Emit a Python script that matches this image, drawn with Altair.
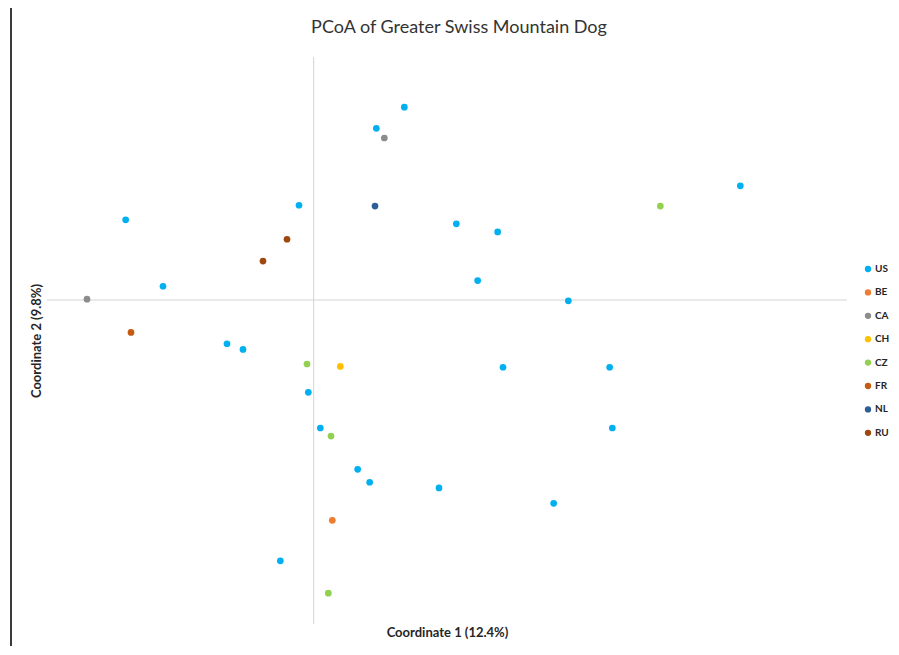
import altair as alt
import pandas as pd

# Data (Coordinate 1, Coordinate 2)
us_x = [0.068, 0.047, 0.320, -0.141, -0.011, 0.107, 0.138, -0.113, 0.123, 0.191,
        -0.065, -0.053, 0.142, 0.222, -0.004, 0.005, 0.224, 0.033, 0.042, 0.094,
        0.180, -0.025]
us_y = [0.238, 0.212, 0.141, 0.099, 0.117, 0.094, 0.084, 0.017, 0.024, -0.001,
        -0.054, -0.061, -0.083, -0.083, -0.114, -0.158, -0.158, -0.209, -0.225, -0.232,
        -0.251, -0.322]
be_x = [0.014]
be_y = [-0.272]
ca_x = [0.053, -0.170]
ca_y = [0.200, 0.001]
ch_x = [0.020]
ch_y = [-0.082]
cz_x = [0.260, -0.005, 0.013, 0.011]
cz_y = [0.116, -0.079, -0.168, -0.362]
fr_x = [-0.137]
fr_y = [-0.040]
nl_x = [0.046]
nl_y = [0.116]
ru_x = [-0.020, -0.038]
ru_y = [0.075, 0.048]

groups = ["US", "BE", "CA", "CH", "CZ", "FR", "NL", "RU"]
colors = ["#00B0F0", "#ED7D31", "#8C8C8C", "#FFC000", "#92D050", "#C55A11", "#2E5E96", "#9E480E"]
xs = [us_x, be_x, ca_x, ch_x, cz_x, fr_x, nl_x, ru_x]
ys = [us_y, be_y, ca_y, ch_y, cz_y, fr_y, nl_y, ru_y]

rows = []
for g, gx, gy in zip(groups, xs, ys):
    for a, b in zip(gx, gy):
        rows.append({"Country": g, "c1": a, "c2": b})
df = pd.DataFrame(rows)

FONT = "Lato"
W, H = 800, 567

xscale = alt.Scale(domain=[-0.2, 0.4], nice=False, zero=False)
yscale = alt.Scale(domain=[-0.4, 0.3], nice=False, zero=False)

x_axis = alt.Axis(title="Coordinate 1 (12.4%)", domain=False, ticks=False,
                  labels=False, grid=False, titlePadding=2)
y_axis = alt.Axis(title="Coordinate 2 (9.8%)", domain=False, ticks=False,
                  labels=False, grid=False, titlePadding=4)

zero_df = pd.DataFrame({"z": [0]})
vline = alt.Chart(zero_df).mark_rule(color="#D4D4D4", strokeWidth=1).encode(
    x=alt.X("z:Q", scale=xscale, axis=x_axis, title="Coordinate 1 (12.4%)"))
hline = alt.Chart(zero_df).mark_rule(color="#D4D4D4", strokeWidth=1).encode(
    y=alt.Y("z:Q", scale=yscale, axis=y_axis, title="Coordinate 2 (9.8%)"))

points = alt.Chart(df).mark_circle(size=45, opacity=1).encode(
    x=alt.X("c1:Q", scale=xscale, axis=x_axis, title="Coordinate 1 (12.4%)"),
    y=alt.Y("c2:Q", scale=yscale, axis=y_axis, title="Coordinate 2 (9.8%)"),
    color=alt.Color("Country:N", sort=groups,
                    scale=alt.Scale(domain=groups, range=colors),
                    legend=alt.Legend(title=None, orient="none", legendX=816, legendY=207,
                                      symbolType="circle", symbolSize=40,
                                      labelFont=FONT, labelFontSize=10,
                                      labelFontWeight="bold", labelColor="#262626",
                                      rowPadding=13.4, labelOffset=2)),
)

# chart-area frame (left edge visible in the reference)
border = alt.Chart(zero_df).mark_rule(color="#3A3A3A", strokeWidth=2).encode(
    x=alt.value(-36), y=alt.value(-49), y2=alt.value(600))

chart = alt.layer(vline, hline, points, border).properties(
    width=W, height=H,
    autosize=alt.AutoSizeParams(type="none"),
    padding={"left": 39, "top": 49, "right": 44, "bottom": 22},
    title=alt.TitleParams("PCoA of Greater Swiss Mountain Dog", font=FONT, fontSize=18,
                          fontWeight="normal", color="#333333", anchor="middle",
                          offset=-30, dx=12),
).configure_view(stroke=None).configure_axis(
    titleFont=FONT, titleFontSize=13, titleFontWeight="bold", titleColor="#262626"
)

chart.save("out.html", embed_options={"renderer": "svg", "actions": False})
